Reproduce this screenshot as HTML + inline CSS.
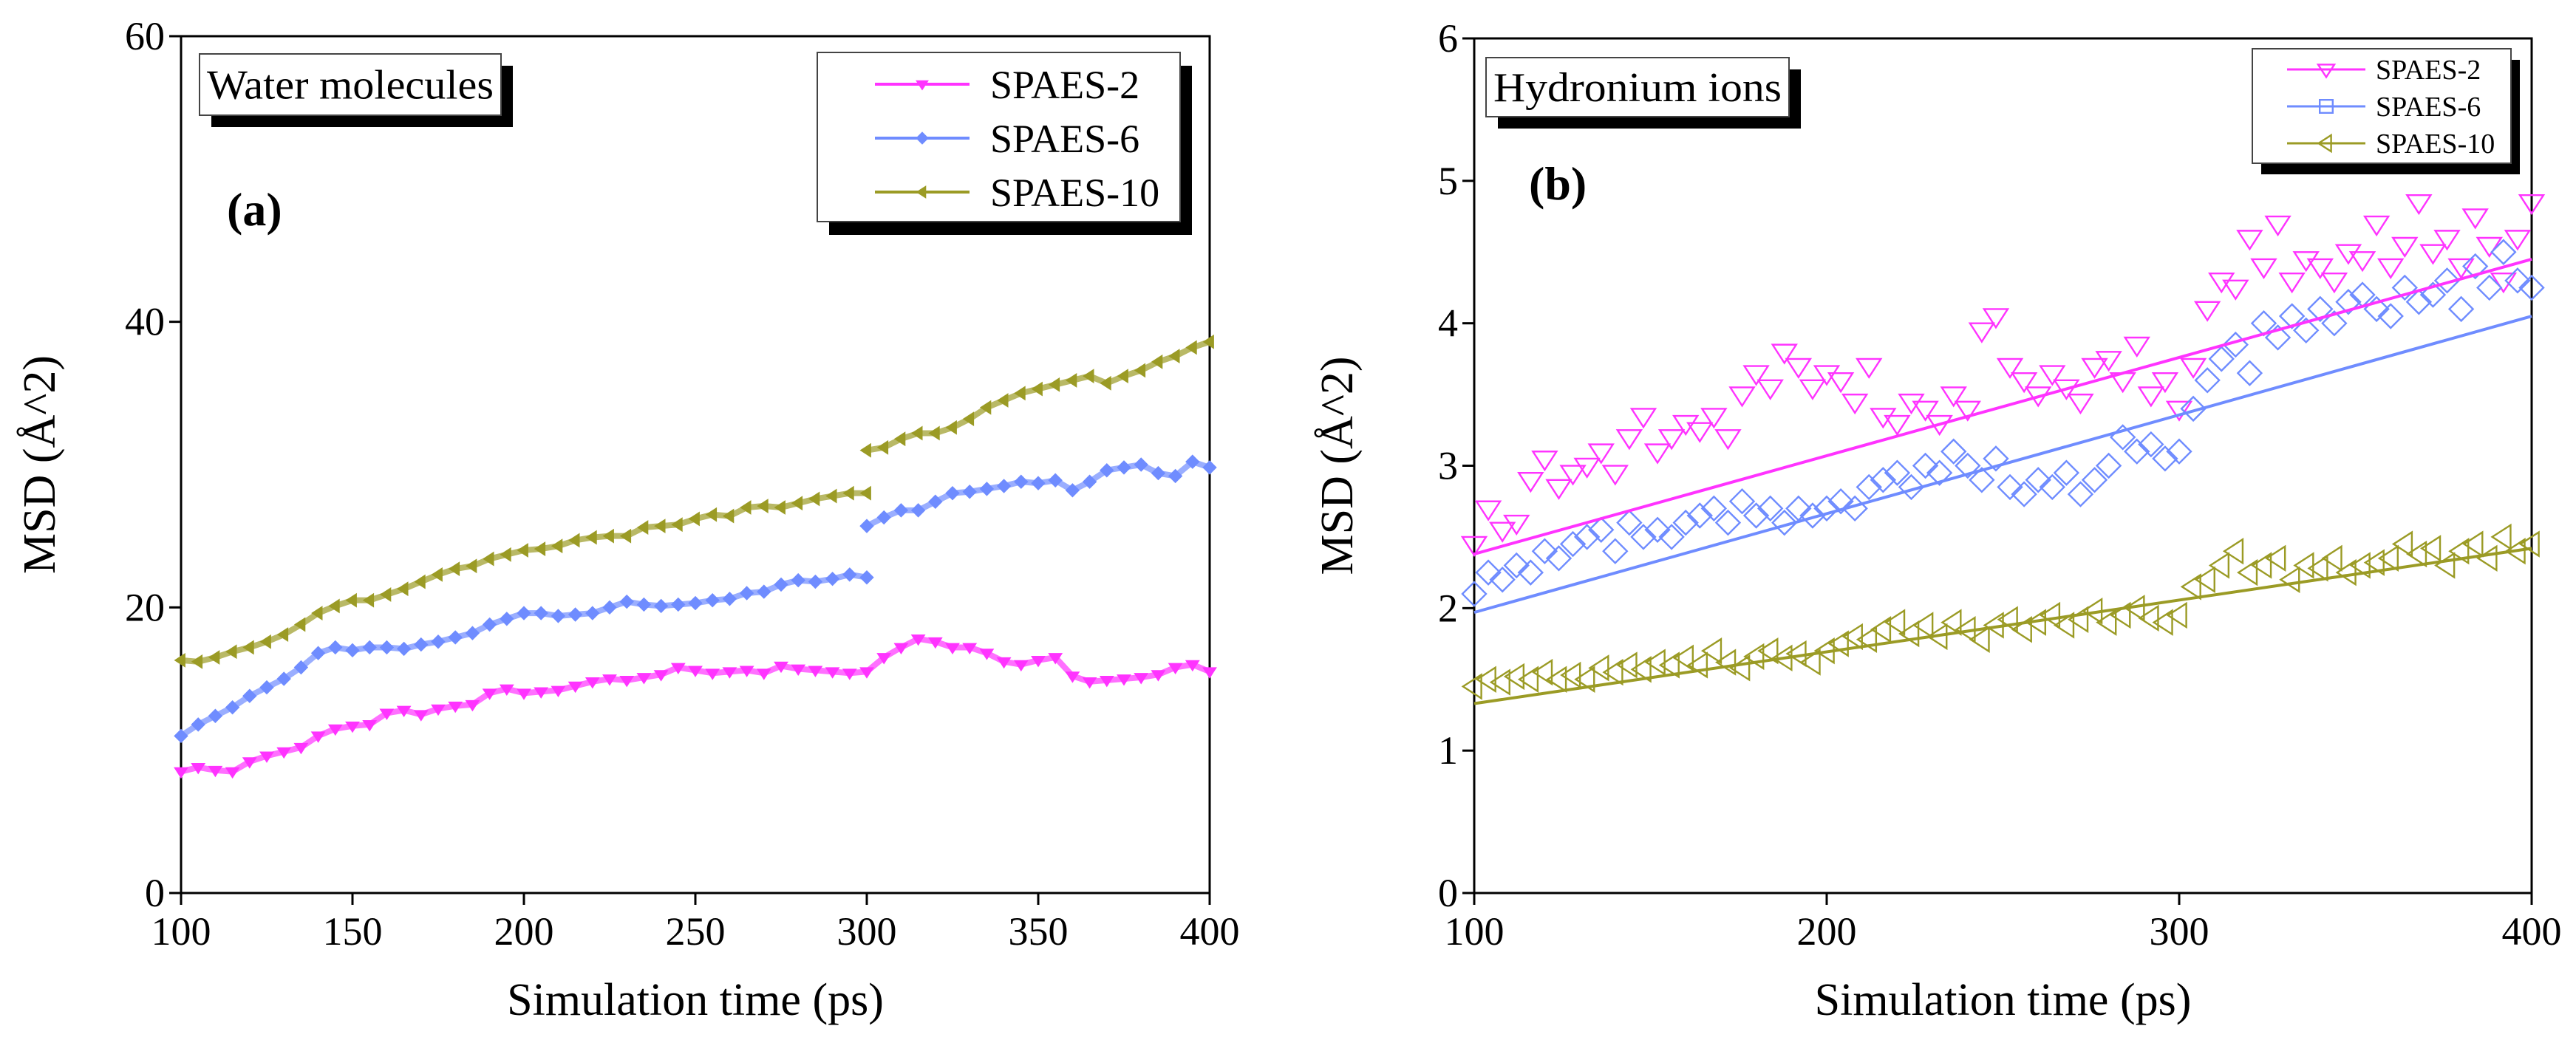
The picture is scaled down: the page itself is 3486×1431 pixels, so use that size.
<!DOCTYPE html>
<html><head><meta charset="utf-8">
<style>
html,body{margin:0;padding:0;background:#fff;}
svg{display:block;font-family:"Liberation Serif",serif;}
</style></head>
<body>
<svg id="fig" width="3486" height="1431" viewBox="0 0 3486 1431" xmlns="http://www.w3.org/2000/svg">
<rect width="3486" height="1431" fill="#fff"/>
<g id="pa"></g>
<g id="pb"></g>
</svg>
<script>
// ---- Panel (a) data: water molecules, time step 5 ps ----
const aX = [];
for (let t = 100; t <= 400; t += 5) aX.push(t);
const aSpaes2 = [8.5,8.8,8.6,8.5,9.2,9.6,9.9,10.2,11,11.5,11.7,11.8,12.6,12.8,12.5,12.9,13.1,13.2,14,14.3,14,14.1,14.2,14.5,14.8,15,14.9,15.1,15.3,15.8,15.6,15.4,15.5,15.6,15.4,15.9,15.7,15.6,15.5,15.4,15.5,16.5,17.2,17.8,17.6,17.2,17.2,16.8,16.2,16.0,16.3,16.5,15.2,14.8,14.9,15,15.1,15.3,15.8,16,15.5];
const aSpaes6Early = [11,11.8,12.4,13,13.8,14.4,15,15.8,16.8,17.2,17,17.2,17.2,17.1,17.4,17.6,17.9,18.2,18.8,19.2,19.6,19.6,19.4,19.5,19.6,20,20.4,20.2,20.1,20.2,20.3,20.5,20.6,21,21.1,21.6,21.9,21.8,22,22.3,22.1];
const aSpaes6Late = [25.7,26.3,26.8,26.8,27.4,28,28.1,28.3,28.5,28.8,28.7,28.9,28.2,28.8,29.6,29.8,30,29.4,29.2,30.2,29.8];
const aSpaes10Early = [16.3,16.2,16.5,16.9,17.2,17.6,18.1,18.8,19.6,20.1,20.5,20.5,20.9,21.3,21.8,22.3,22.7,22.9,23.4,23.7,24,24.1,24.3,24.7,24.9,25,25,25.6,25.7,25.8,26.2,26.5,26.4,27,27.1,27,27.3,27.6,27.8,28,28];
const aSpaes10Late = [31,31.2,31.8,32.2,32.2,32.6,33.2,34,34.5,35,35.3,35.6,35.9,36.2,35.7,36.2,36.6,37.2,37.6,38.2,38.6];
const aXTicks = [100,150,200,250,300,350,400];
const aYTicks = [0,20,40,60];

// ---- Panel (b) data: hydronium ions, time step 4 ps ----
const bX = [];
for (let t = 100; t <= 400; t += 4) bX.push(t);
const bSpaes2 = [2.45,2.7,2.55,2.6,2.9,3.05,2.85,2.95,3.0,3.1,2.95,3.2,3.35,
 3.1,3.2,3.3,3.25,3.35,3.2,3.5,3.65,3.55,3.8,3.7,3.55,3.65,
 3.6,3.45,3.7,3.35,3.3,3.45,3.4,3.3,3.5,3.4,3.95,4.05,3.7,
 3.6,3.5,3.65,3.55,3.45,3.7,3.75,3.6,3.85,3.5,3.6,3.4,3.7,
 4.1,4.3,4.25,4.6,4.4,4.7,4.3,4.45,4.4,4.3,4.5,4.45,4.7,
 4.4,4.55,4.85,4.5,4.6,4.4,4.75,4.55,4.3,4.6,4.85];
const bSpaes6 = [2.1,2.25,2.2,2.3,2.25,2.4,2.35,2.45,2.5,2.55,2.4,2.6,2.5,
 2.55,2.5,2.6,2.65,2.7,2.6,2.75,2.65,2.7,2.6,2.7,2.65,2.7,
 2.75,2.7,2.85,2.9,2.95,2.85,3.0,2.95,3.1,3.0,2.9,3.05,2.85,
 2.8,2.9,2.85,2.95,2.8,2.9,3.0,3.2,3.1,3.15,3.05,3.1,3.4,
 3.6,3.75,3.85,3.65,4.0,3.9,4.05,3.95,4.1,4.0,4.15,4.2,4.1,
 4.05,4.25,4.15,4.2,4.3,4.1,4.4,4.25,4.5,4.3,4.25];
const bSpaes10 = [1.45,1.5,1.48,1.52,1.5,1.55,1.5,1.53,1.5,1.58,1.55,1.6,1.57,
 1.62,1.6,1.65,1.6,1.7,1.62,1.58,1.66,1.7,1.65,1.68,1.62,1.7,
 1.75,1.8,1.78,1.85,1.9,1.82,1.88,1.8,1.9,1.85,1.78,1.88,1.92,
 1.85,1.9,1.95,1.88,1.92,1.98,1.9,1.95,2.0,1.93,1.9,1.95,2.15,
 2.2,2.3,2.4,2.25,2.3,2.35,2.2,2.3,2.28,2.35,2.25,2.3,2.32,
 2.35,2.45,2.38,2.42,2.3,2.4,2.45,2.35,2.5,2.4,2.45];
const bFitStart = [2.38,1.97,1.33];
const bFitEnd = [4.45,4.05,2.42];
const bXTicks = [100,200,300,400];
const bYTicks = [0,1,2,3,4,5,6];

const MAG = "#ff33ff", BLU = "#6f8cff", OLV = "#9b9b25";
const NS = "http://www.w3.org/2000/svg";
function mk(parent, tag, attrs, text) {
  const e = document.createElementNS(NS, tag);
  for (const k in attrs) e.setAttribute(k, attrs[k]);
  if (text !== undefined) e.textContent = text;
  parent.appendChild(e);
  return e;
}
function marker(g, type, cx, cy, s, color, filled) {
  let d;
  if (type === "down") d = `M${cx-s},${cy-s*0.6}L${cx+s},${cy-s*0.6}L${cx},${cy+s*0.95}Z`;
  else if (type === "diamond") d = `M${cx},${cy-s}L${cx+s},${cy}L${cx},${cy+s}L${cx-s},${cy}Z`;
  else if (type === "square") d = `M${cx-s*0.8},${cy-s*0.8}h${s*1.6}v${s*1.6}h${-s*1.6}Z`;
  else d = `M${cx-s*0.95},${cy}L${cx+s*0.6},${cy-s}L${cx+s*0.6},${cy+s}Z`;
  return mk(g, "path", {d: d, fill: filled ? color : "none", stroke: color, "stroke-width": filled ? 1 : 2.4});
}
function axes(g, L, R, T, B, xmin, xmax, ymin, ymax, xt, yt, yLabelX) {
  const sx = v => L + (v - xmin) / (xmax - xmin) * (R - L);
  const sy = v => B - (v - ymin) / (ymax - ymin) * (B - T);
  const frame = mk(g, "rect", {x: L, y: T, width: R - L, height: B - T, fill: "none", stroke: "#000", "stroke-width": 3});
  
  
  xt.forEach(v => {
    mk(g, "line", {x1: sx(v), x2: sx(v), y1: B, y2: B + 16, stroke: "#000", "stroke-width": 3});
    const t = mk(g, "text", {x: sx(v), y: B + 70, "text-anchor": "middle", "font-size": 54}, String(v));
    
    
  });
  yt.forEach(v => {
    mk(g, "line", {x1: L - 16, x2: L, y1: sy(v), y2: sy(v), stroke: "#000", "stroke-width": 3});
    const t = mk(g, "text", {x: L - 22, y: sy(v) + 18, "text-anchor": "end", "font-size": 54}, String(v));
    
    
  });
  const xt2 = mk(g, "text", {x: (L + R) / 2, y: B + 165, "text-anchor": "middle", "font-size": 62}, "Simulation time (ps)");
  
  
  const yt2 = mk(g, "text", {x: 0, y: 0, "text-anchor": "middle", "font-size": 62, transform: `translate(${yLabelX},${(T + B) / 2}) rotate(-90)`}, "MSD (Å^2)");
  
  
  return {sx, sy};
}
function labelBox(g, x, y, w, h, text, name) {
  const bg = mk(g, "g", {});
  
  
  mk(bg, "rect", {x: x + 16, y: y + 16, width: w, height: h, fill: "#000"});
  mk(bg, "rect", {x: x, y: y, width: w, height: h, fill: "#fff", stroke: "#444", "stroke-width": 2});
  mk(bg, "text", {x: x + 10, y: y + h / 2 + 19, "font-size": 56, textLength: w - 20, lengthAdjust: "spacingAndGlyphs"}, text);
}

// ---------- Panel A ----------
(function () {
  const g = document.getElementById("pa");
  const A = axes(g, 245, 1637, 49, 1209, 100, 400, 0, 60, aXTicks, aYTicks, 74);
  function series(xs, ys, color, type, name) {
    const sg = mk(g, "g", {});
    
    
    mk(sg, "polyline", {points: xs.map((x, i) => A.sx(x) + "," + A.sy(ys[i])).join(" "), fill: "none", stroke: color, "stroke-width": 8, "stroke-opacity": 0.7});
    xs.forEach((x, i) => marker(sg, type, A.sx(x), A.sy(ys[i]), 9, color, true));
  }
  const xEarly = aX.filter(t => t <= 300), xLate = aX.filter(t => t >= 300);
  series(aX, aSpaes2, MAG, "down", "series-spaes-2");
  series(xEarly, aSpaes6Early, BLU, "diamond", "series-spaes-6-early");
  series(xLate, aSpaes6Late, BLU, "diamond", "series-spaes-6-late");
  series(xEarly, aSpaes10Early, OLV, "left", "series-spaes-10-early");
  series(xLate, aSpaes10Late, OLV, "left", "series-spaes-10-late");
  labelBox(g, 270, 73, 408, 83, "Water molecules", "panel-a-label");
  const t = mk(g, "text", {x: 307, y: 305, "font-size": 64, "font-weight": "bold"}, "(a)");
  
  
  const lg = mk(g, "g", {});
  
  
  mk(lg, "rect", {x: 1122, y: 89, width: 491, height: 229, fill: "#000"});
  mk(lg, "rect", {x: 1106, y: 71, width: 491, height: 229, fill: "#fff", stroke: "#444", "stroke-width": 2});
  [["SPAES-2", MAG, "down", 114], ["SPAES-6", BLU, "diamond", 187], ["SPAES-10", OLV, "left", 260]].forEach(e => {
    const le = mk(lg, "g", {});
    
    
    mk(le, "line", {x1: 1184, x2: 1312, y1: e[3], y2: e[3], stroke: e[1], "stroke-width": 4});
    marker(le, e[2], 1248, e[3], 8, e[1], true);
    mk(le, "text", {x: 1340, y: e[3] + 19, "font-size": 54}, e[0]);
  });
})();

// ---------- Panel B ----------
(function () {
  const g = document.getElementById("pb");
  const B = axes(g, 1995, 3426, 52, 1209, 100, 400, 0, 6, bXTicks, bYTicks, 1830);
  function series(ys, color, type, name) {
    const sg = mk(g, "g", {});
    
    
    bX.forEach((x, i) => marker(sg, type, B.sx(x), B.sy(ys[i]), 16, color, false));
  }
  series(bSpaes2, MAG, "down", "series-spaes-2");
  series(bSpaes6, BLU, "diamond", "series-spaes-6");
  series(bSpaes10, OLV, "left", "series-spaes-10");
  [MAG, BLU, OLV].forEach((c, i) => {
    const l = mk(g, "line", {x1: B.sx(100), x2: B.sx(400), y1: B.sy(bFitStart[i]), y2: B.sy(bFitEnd[i]), stroke: c, "stroke-width": 4});
    
    
  });
  labelBox(g, 2011, 78, 410, 80, "Hydronium ions", "panel-b-label");
  const t = mk(g, "text", {x: 2069, y: 270, "font-size": 64, "font-weight": "bold"}, "(b)");
  
  
  const lg = mk(g, "g", {});
  
  
  mk(lg, "rect", {x: 3060, y: 81, width: 350, height: 155, fill: "#000"});
  mk(lg, "rect", {x: 3048, y: 66, width: 350, height: 155, fill: "#fff", stroke: "#444", "stroke-width": 2});
  [["SPAES-2", MAG, "down", 94], ["SPAES-6", BLU, "square", 144], ["SPAES-10", OLV, "left", 194]].forEach(e => {
    const le = mk(lg, "g", {});
    
    
    mk(le, "line", {x1: 3095, x2: 3201, y1: e[3], y2: e[3], stroke: e[1], "stroke-width": 3});
    marker(le, e[2], 3148, e[3], 11, e[1], false);
    mk(le, "text", {x: 3215, y: e[3] + 13, "font-size": 38}, e[0]);
  });
})();
</script>
</body></html>
